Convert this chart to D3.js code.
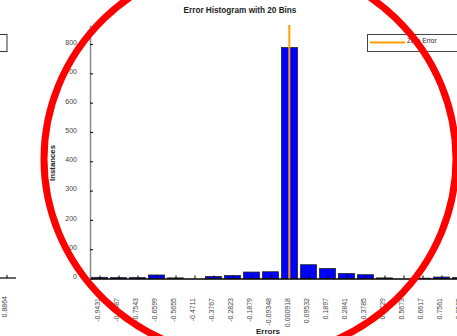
<!DOCTYPE html>
<html>
<head>
<meta charset="utf-8">
<script src="https://cdn.jsdelivr.net/npm/d3@7"></script>
<style>
  body { margin: 0; background: #fff; }
  svg { display: block; font-family: "Liberation Sans", Arial, sans-serif; }
</style>
</head>
<body>
<div id="viz-container"></div>
<script>
// Bin centres (x tick labels) and counts per bin
const binLabels = ["-0.9431", "-0.8487", "-0.7543", "-0.6599", "-0.5655", "-0.4711",
    "-0.3767", "-0.2823", "-0.1879", "-0.09348", "0.000918", "0.09532", "0.1897",
    "0.2841", "0.3785", "0.4729", "0.5673", "0.6617", "0.7561", "0.8505"];
const binCenters = binLabels.map(Number);
const binCounts = [4, 3, 3, 12, 2, 0, 7, 10, 22, 23, 788, 47, 34, 17, 13, 2, 0, 1, 5, 3];
const yTicks = [0, 100, 200, 300, 400, 500, 600, 700, 800];
const zeroError = 0;

const W = 457, H = 336;
const binW = binCenters[1] - binCenters[0];

const svg = d3.select("#viz-container")
    .append("svg")
    .attr("width", W)
    .attr("height", H);

// Scales
const x = d3.scaleLinear()
    .domain([binCenters[0] - binW / 2, binCenters[19] + binW / 2])
    .range([90, 470]);
const y = d3.scaleLinear()
    .domain([0, 865])
    .range([278.5, 25]);

// leftover bits of the neighbouring figure at the left edge
svg.append("rect")
    .attr("x", -10).attr("y", 34.5).attr("width", 17).attr("height", 17)
    .attr("fill", "none").attr("stroke", "#333").attr("stroke-width", 1);
svg.append("line")
    .attr("x1", 0).attr("x2", 16).attr("y1", 278).attr("y2", 278)
    .attr("stroke", "#000").attr("stroke-width", 1.2);
svg.append("line")
    .attr("x1", 7).attr("x2", 7).attr("y1", 278).attr("y2", 275)
    .attr("stroke", "#000");
svg.append("text")
    .attr("transform", "translate(7,296) rotate(-90)")
    .attr("text-anchor", "end")
    .attr("font-size", "7px")
    .attr("fill", "#444")
    .text("0.8864");

// Bars
svg.selectAll("rect.bar")
    .data(binCounts)
    .enter().append("rect")
    .attr("class", "bar")
    .attr("x", (d, i) => x(binCenters[i] - binW * 0.42))
    .attr("width", x(binCenters[0] + binW * 0.42) - x(binCenters[0] - binW * 0.42))
    .attr("y", d => y(d))
    .attr("height", d => y(0) - y(d))
    .attr("fill", "#0000ff")
    .attr("stroke", "#222")
    .attr("stroke-width", 0.8);

// X axis
const xAxis = svg.append("g")
    .attr("transform", `translate(0,${y(0)})`)
    .call(d3.axisBottom(x).tickValues(binCenters).tickSizeInner(-3).tickSizeOuter(0).tickFormat(""));
xAxis.select(".domain").attr("stroke", "#000").attr("stroke-width", 1.3);
xAxis.selectAll(".tick line").attr("stroke", "#000");

svg.selectAll("text.xlab")
    .data(binLabels)
    .enter().append("text")
    .attr("class", "xlab")
    .attr("transform", (d, i) => `translate(${x(binCenters[i])},298) rotate(-90)`)
    .attr("text-anchor", "end")
    .attr("font-size", "7px")
    .attr("fill", "#444")
    .text(d => d);

// Y axis
const yAxis = svg.append("g")
    .attr("transform", "translate(90,0)")
    .call(d3.axisLeft(y).tickValues(yTicks).tickSizeInner(-3).tickSizeOuter(0).tickPadding(13));
yAxis.select(".domain").attr("stroke", "#888").attr("stroke-width", 1.5);
yAxis.selectAll(".tick line").attr("stroke", "#000");
yAxis.selectAll(".tick text")
    .attr("font-size", "7px")
    .attr("fill", "#444")
    .attr("dy", "0.05em");

// Zero error line
svg.append("line")
    .attr("x1", x(zeroError)).attr("x2", x(zeroError))
    .attr("y1", 25).attr("y2", y(0))
    .attr("stroke", "#ff9f00")
    .attr("stroke-width", 2);

// Title & axis labels
svg.append("text")
    .attr("x", 240).attr("y", 13)
    .attr("text-anchor", "middle")
    .attr("font-size", "8.2px")
    .attr("font-weight", "bold")
    .attr("fill", "#222")
    .text("Error Histogram with 20 Bins");

svg.append("text")
    .attr("transform", "translate(54.5,163) rotate(-90)")
    .attr("text-anchor", "middle")
    .attr("font-size", "7.8px")
    .attr("font-weight", "bold")
    .attr("fill", "#222")
    .text("Instances");

svg.append("text")
    .attr("x", 268).attr("y", 334)
    .attr("text-anchor", "middle")
    .attr("font-size", "8px")
    .attr("font-weight", "bold")
    .attr("fill", "#222")
    .text("Errors");

// Legend
const legend = svg.append("g").attr("transform", "translate(367,34)");
legend.append("rect")
    .attr("x", 0.5).attr("y", 0.5).attr("width", 100).attr("height", 17)
    .attr("fill", "#fff").attr("stroke", "#444").attr("stroke-width", 1);
legend.append("line")
    .attr("x1", 3).attr("x2", 38).attr("y1", 8.5).attr("y2", 8.5)
    .attr("stroke", "#ff9f00").attr("stroke-width", 2);
legend.append("text")
    .attr("x", 40).attr("y", 8.5)
    .attr("font-size", "6.5px")
    .attr("fill", "#222")
    .text("Zero Error");

// Red annotation circle drawn over the figure
svg.append("ellipse")
    .attr("cx", 250).attr("cy", 159)
    .attr("rx", 206).attr("ry", 199)
    .attr("fill", "none")
    .attr("stroke", "#ff0000")
    .attr("stroke-width", 7);
</script>
</body>
</html>
